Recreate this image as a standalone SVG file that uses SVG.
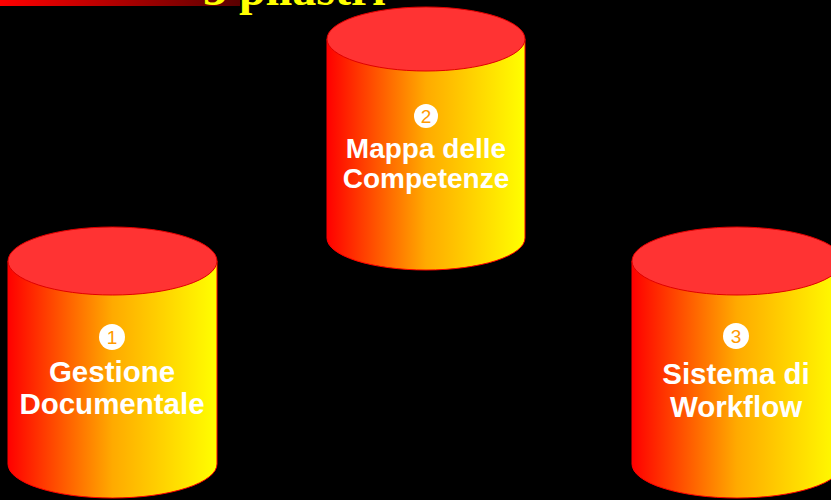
<svg xmlns="http://www.w3.org/2000/svg" width="831" height="500" viewBox="0 0 831 500">
<defs>
<linearGradient id="body" x1="0" y1="0" x2="1" y2="0">
<stop offset="0" stop-color="#ff0000"/>
<stop offset="0.5" stop-color="#ffaa00"/>
<stop offset="1" stop-color="#ffff00"/>
</linearGradient>
<linearGradient id="bar" x1="0" y1="0" x2="1" y2="0">
<stop offset="0" stop-color="#ff0000"/>
<stop offset="1" stop-color="#5a0000"/>
</linearGradient>
</defs>
<style>
.body{fill:url(#body);stroke:#ff0000;stroke-width:1}
.top{fill:#ff3333;stroke:#e00000;stroke-width:1}
.lbl{font-family:"Liberation Sans",Arial,sans-serif;font-weight:bold;font-size:28px;fill:#ffffff;text-anchor:middle}
.lbl2{font-size:29.5px}
.num{font-family:"Liberation Sans",Arial,sans-serif;font-size:19px;fill:#ff9900;text-anchor:middle}
.title{font-family:"Liberation Serif","Times New Roman",serif;font-weight:bold;font-size:48px;fill:#ffff00}
</style>
<rect width="831" height="500" fill="#000000"/>
<rect x="0" y="0" width="240" height="6" fill="url(#bar)"/>
<text class="title" x="203" y="4.5">3 pilastri</text>

<g id="cyl2">
<path class="body" d="M327 39 L327 238 A99 32 0 0 0 525 238 L525 39 Z"/>
<ellipse class="top" cx="426" cy="39" rx="99" ry="32"/>
<circle cx="426" cy="116" r="12" fill="#ffffff"/>
<text class="num" x="426" y="123">2</text>
<text class="lbl" x="426" y="158">Mappa delle</text>
<text class="lbl" x="426" y="188">Competenze</text>
</g>

<g id="cyl1">
<path class="body" d="M8 261 L8 464 A104.5 34 0 0 0 217 464 L217 261 Z"/>
<ellipse class="top" cx="112.5" cy="261" rx="104.5" ry="34"/>
<circle cx="112" cy="337" r="13" fill="#ffffff"/>
<text class="num" x="112" y="344">1</text>
<text class="lbl lbl2" x="112" y="382">Gestione</text>
<text class="lbl lbl2" x="112" y="414">Documentale</text>
</g>

<g id="cyl3">
<path class="body" d="M632 261 L632 464 A105 34 0 0 0 842 464 L842 261 Z"/>
<ellipse class="top" cx="737" cy="261" rx="105" ry="34"/>
<circle cx="736" cy="336" r="13" fill="#ffffff"/>
<text class="num" x="736" y="343">3</text>
<text class="lbl lbl2" x="736" y="384">Sistema di</text>
<text class="lbl lbl2" x="736" y="417">Workflow</text>
</g>
<g id="connectors"/>
</svg>
